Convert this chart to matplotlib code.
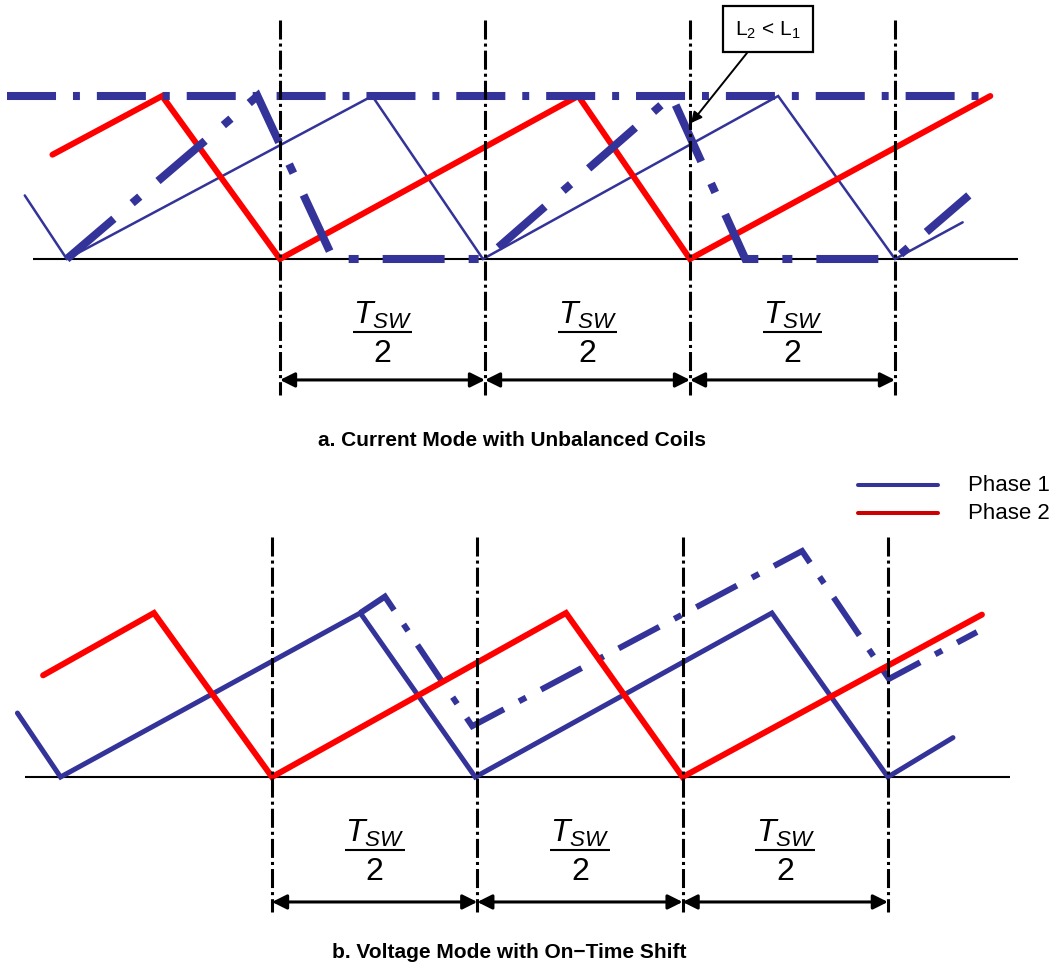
import matplotlib
matplotlib.use('Agg')
import matplotlib.pyplot as plt
from matplotlib.patches import Rectangle
from matplotlib.lines import Line2D

plt.rcParams['font.family'] = ['Liberation Sans', 'DejaVu Sans']
plt.rcParams['mathtext.fontset'] = 'custom'
plt.rcParams['mathtext.rm'] = 'Liberation Sans'
plt.rcParams['mathtext.it'] = 'Liberation Sans:italic'
plt.rcParams['mathtext.bf'] = 'Liberation Sans:bold'
plt.rcParams['lines.scale_dashes'] = False

# ---------------- data (time in units of Tsw/2, current normalised to peak) ----
marks = [0, 1, 2, 3]

# Panel a: current mode with unbalanced coils
a_red_t = [-1.11, -0.575, 0.0, 1.455, 2.0, 3.465]
a_red_i = [0.64, 1.0, 0.0, 1.0, 0.0, 1.0]
a_l1_t = [-1.245, -1.04, 0.45, 0.99, 2.43, 3.0, 3.33]
a_l1_i = [0.39, 0.0, 1.0, 0.0, 1.0, 0.0, 0.225]
a_l2_t = [-1.04, -0.11, 0.26, 1.0, 1.91, 2.27, 3.0, 3.36]
a_l2_i = [0.0, 1.0, 0.0, 0.0, 1.0, 0.0, 0.0, 0.39]
a_limit_t = [-1.33, 3.425]
a_limit_i = [1.0, 1.0]
a_base_t = [-1.205, 3.6]

# Panel b: voltage mode with on-time shift
b_red_t = [-1.115, -0.575, 0.0, 1.432, 2.0, 3.458]
b_red_i = [0.62, 1.0, 0.0, 1.0, 0.0, 0.99]
b_ph1_t = [-1.24, -1.03, 0.43, 0.99, 2.435, 3.0, 3.317]
b_ph1_i = [0.39, 0.0, 1.0, 0.0, 1.0, 0.0, 0.24]
b_shift_t = [0.43, 0.55, 0.975, 2.582, 3.005, 3.434]
b_shift_i = [1.0, 1.1, 0.31, 1.378, 0.598, 0.884]
b_base_t = [-1.203, 3.595]

frac_num = r'$T_{SW}$'
frac_den = '2'
legend_labels = ['Phase 1', 'Phase 2']
captions = ['a. Current Mode with Unbalanced Coils', 'b. Voltage Mode with On\u2212Time Shift']
note_text = r'L$_2$ < L$_1$'

BLUE = '#333399'
RED = '#ff0000'
LEG_RED = '#cc0000'

W, H = 1059, 963
fig = plt.figure(figsize=(W / 100, H / 100), dpi=100)


def panel(x0, dx, y0, dy, top, bot):
    ax = fig.add_axes([0, 1 - bot / H, 1, (bot - top) / H])
    ax.set_xlim(-x0 / dx, (W - x0) / dx)
    ax.set_ylim((y0 - bot) / dy, (y0 - top) / dy)
    ax.axis('off')
    return ax


axA = panel(280, 205, 259, 163, 0, 463)
axB = panel(272, 205.3, 777, 164, 463, 963)


def common(ax, base_t, vline_i, arrow_i):
    ax.plot(base_t, [0, 0], color='black', lw=1.5, zorder=1, solid_capstyle='butt')
    for m in marks:
        ax.plot([m, m], vline_i, color='black', lw=2.2, dashes=(13.7, 2.9, 2.2, 2.9),
                dash_capstyle='butt', zorder=5)
    for a, b in zip(marks[:-1], marks[1:]):
        ax.annotate('', xy=(b, arrow_i), xytext=(a, arrow_i),
                    arrowprops=dict(arrowstyle='<|-|>', color='black', lw=2.2,
                                    mutation_scale=22, shrinkA=0, shrinkB=0), zorder=6)
        c = (a + b) / 2
        ax.text(c, -0.345, frac_num, ha='center', va='center', fontsize=23)
        ax.plot([c - 0.146, c + 0.146], [-0.448, -0.448], color='black', lw=1.5,
                solid_capstyle='butt')
        ax.text(c, -0.58, frac_den, ha='center', va='center', fontsize=23)


# ---------------- panel a ----------------
common(axA, a_base_t, [1.466, -0.834], -0.742)
axA.plot(a_l1_t, a_l1_i, color=BLUE, lw=1.8, solid_capstyle='round',
         solid_joinstyle='miter', zorder=2)
axA.plot(a_red_t, a_red_i, color=RED, lw=4.3, solid_capstyle='round',
         solid_joinstyle='miter', zorder=3)
axA.plot(a_l2_t, a_l2_i, color=BLUE, lw=5.8, dashes=(44.6, 17.3, 7.2, 17.3),
         dash_capstyle='butt', dash_joinstyle='miter', zorder=4)
axA.plot(a_limit_t, a_limit_i, color=BLUE, lw=5.8, dashes=(35.3, 12.2, 5.0, 12.2),
         dash_capstyle='butt', zorder=4)

axA.add_patch(Rectangle((2.161, 1.270), 0.439, 0.282, fc='white', ec='black',
                        lw=1.6, zorder=6))
axA.text(2.38, 1.405, note_text, ha='center', va='center', fontsize=15, zorder=7)
axA.annotate('', xy=(2.005, 0.834), xytext=(2.278, 1.264),
             arrowprops=dict(arrowstyle='-|>', color='black', lw=1.4,
                             mutation_scale=16, shrinkA=0, shrinkB=0), zorder=7)

# ---------------- panel b ----------------
common(axB, b_base_t, [1.463, -0.823], -0.762)
axB.plot(b_ph1_t, b_ph1_i, color=BLUE, lw=3.6, solid_capstyle='round',
         solid_joinstyle='miter', zorder=2)
axB.plot(b_shift_t, b_shift_i, color=BLUE, lw=4.3, dashes=(33.1, 12.2, 5.8, 12.2),
         dash_capstyle='butt', dash_joinstyle='miter', zorder=2.5)
axB.plot(b_red_t, b_red_i, color=RED, lw=4.3, solid_capstyle='round',
         solid_joinstyle='miter', zorder=3)

# legend
for k, (lab, col) in enumerate(zip(legend_labels, [BLUE, LEG_RED])):
    yy = 1.780 - k * 0.171
    axB.add_line(Line2D([2.854, 3.244], [yy, yy], color=col, lw=2.9,
                        solid_capstyle='round'))
    axB.text(3.39, yy, lab, ha='left', va='center', fontsize=16)

# captions
fig.text(512 / W, 1 - 441 / H, captions[0], ha='center', va='center',
         fontsize=15, fontweight='bold')
fig.text(509 / W, 1 - 952 / H, captions[1], ha='center', va='center',
         fontsize=15, fontweight='bold')

fig.savefig('out.png', dpi=100)
